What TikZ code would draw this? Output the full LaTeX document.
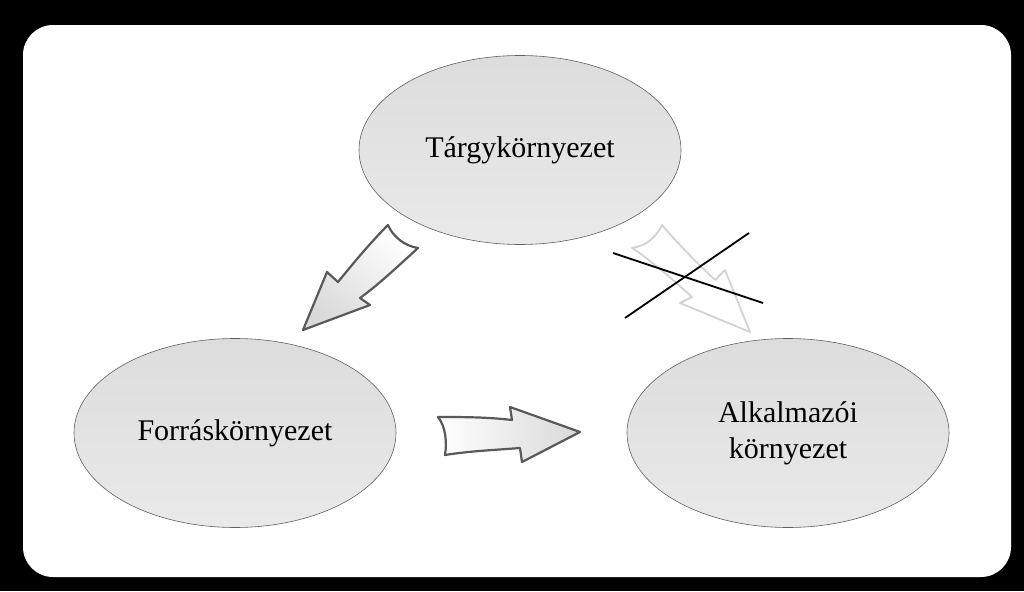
\documentclass[tikz,border=0pt]{standalone}
\usepackage{fontspec}
\setmainfont{Liberation Serif}
\usetikzlibrary{shapes.geometric, positioning}

\tikzset{
  env/.style={ellipse, draw=gray!75!black, line width=0.3pt, minimum width=161pt, minimum height=94.5pt,
    top color=gray!27, middle color=gray!2, bottom color=gray!17, align=center, inner sep=0pt,
    font=\fontsize{15}{18}\selectfont},
  blockarrow/.style={draw=gray!70!black, line width=1.1pt, line join=round},
  crossed/.style={draw=gray!35, line width=0.9pt, line join=round, fill=white},
}

\begin{document}
\begin{tikzpicture}[x=0.5pt,y=0.5pt]
\fill[black] (0,0) rectangle (1024,591);%le fond
\fill[white, rounded corners=15pt] (23,14) rectangle (1011,566);

\node[env] (targy) at (520,441) {Tárgykörnyezet};
\node[env] (forras) at (235,158) {Forráskörnyezet};
\node[env] (alkalm) at (788,158) {Alkalmazói\\környezet};

%targy -> forras
\draw[blockarrow, top color=white, bottom color=gray!30, shading angle=-40]
  (388,366) .. controls (393,354) and (405,345) .. (418,343)
  .. controls (395,322) and (378,306) .. (360,293) -- (370,286) -- (303,261) -- (327,319) -- (338,309)
  .. controls (355,330) and (372,350) .. (388,366) -- cycle;

%forras -> alkalm
\draw[blockarrow, left color=white, right color=gray!30]
  (438,174) .. controls (446,164) and (447,148) .. (445,136)
  .. controls (470,140) and (495,141) .. (520,143) -- (522,129) -- (580,159) -- (510,184) -- (512,171)
  .. controls (487,174) and (462,174) .. (438,174) -- cycle;

%targy -> alkalm (athuzva)
\draw[crossed]
  (632,343) .. controls (645,345) and (655,352) .. (662,366)
  .. controls (680,345) and (700,325) .. (715,311) -- (725,321) -- (750,259) -- (680,288) -- (692,294)
  .. controls (672,312) and (652,330) .. (632,343) -- cycle;

\coordinate (x1) at (613,338);
\coordinate (x2) at (763,288);
\coordinate (x3) at (625,273);
\coordinate (x4) at (749,358);
\draw[line width=0.9pt] (x1) -- (x2);
\draw[line width=0.9pt] (x3) -- (x4);
\end{tikzpicture}
\end{document}
